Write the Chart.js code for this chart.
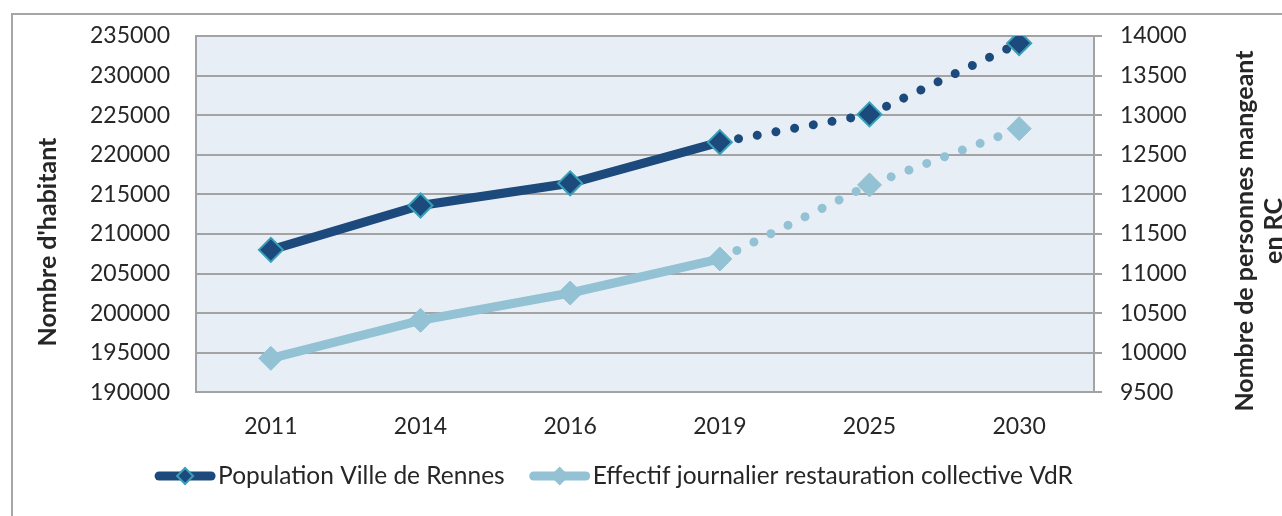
<!DOCTYPE html>
<html>
<head>
<meta charset="utf-8">
<script src="https://cdn.jsdelivr.net/npm/chart.js@4/dist/chart.umd.min.js"></script>
<style>
  html, body { margin: 0; padding: 0; background: #fff; }
</style>
</head>
<body>
<canvas id="rennesChart" width="1282" height="516"></canvas>
<script>
const years = ["2011", "2014", "2016", "2019", "2025", "2030"]
const population = [208000, 213600, 216400, 221600, 225100, 234100]
const effectif = [9930, 10410, 10755, 11185, 12120, 12830]
const popAxis = { min: 190000, max: 235000, step: 5000 }
const rcAxis = { min: 9500, max: 14000, step: 500 }
const projectedFrom = 3 // index of 2019, projections after it are dotted

const COLORS = {
  navy: "#1d4a7c",
  sky: "#92c2d4",
  teal: "#3a9fb8",
  grid: "#a3a3a3",
  plot: "#e8eef5",
  text: "#262626",
  frame: "#a6a6a6",
}
const FONT = "Lato"
const tickFont = { family: FONT, size: 23 }

// dotted after 2019
const dotted = (ctx) => (ctx.p0DataIndex >= projectedFrom ? [0.01, 19] : undefined)

// fixed scale widths so the plot sits where it should
const fixWidth = (w) => (s) => {
  s.width = w
  s.paddingTop = 0
  s.paddingBottom = 0
}

// background of the plot and the outer frame
const backdrop = {
  id: "backdrop",
  beforeDraw(chart) {
    const { ctx, chartArea } = chart
    ctx.save()
    ctx.strokeStyle = COLORS.frame
    ctx.lineWidth = 2
    ctx.strokeRect(12, 14, chart.width + 20, chart.height + 20)
    ctx.fillStyle = COLORS.plot
    ctx.fillRect(chartArea.left, chartArea.top, chartArea.right - chartArea.left, chartArea.bottom - chartArea.top)
    ctx.restore()
  },
}

// both axis titles read bottom to top
const axisTitles = {
  id: "axisTitles",
  afterDraw(chart) {
    const { ctx } = chart
    const put = (lines, x, y) => {
      ctx.save()
      ctx.translate(x, y)
      ctx.rotate(-Math.PI / 2)
      lines.forEach((t, i) => ctx.fillText(t, 0, i * 29))
      ctx.restore()
    }
    ctx.save()
    ctx.font = "bold 25px " + FONT
    ctx.fillStyle = COLORS.text
    ctx.textAlign = "center"
    ctx.textBaseline = "middle"
    put(["Nombre d'habitant"], 48, 242)
    put(["Nombre de personnes mangeant", "en RC"], 1245, 231)
    ctx.restore()
  },
}

// legend: line with diamond, then label
const lineLegend = {
  id: "lineLegend",
  afterDraw(chart) {
    const { ctx } = chart
    ctx.save()
    ctx.font = "24.5px " + FONT
    const sets = chart.data.datasets
    const widths = sets.map((d) => ctx.measureText(d.label).width)
    const total = sets.length * 63 + widths.reduce((a, b) => a + b, 0) + 25 * (sets.length - 1)
    let x = 614 - total / 2
    const y = 476
    sets.forEach((d, i) => {
      ctx.strokeStyle = d.borderColor
      ctx.lineWidth = 9
      ctx.lineCap = "round"
      ctx.beginPath()
      ctx.moveTo(x + 4, y)
      ctx.lineTo(x + 56, y)
      ctx.stroke()
      ctx.beginPath()
      ctx.moveTo(x + 30, y - 8)
      ctx.lineTo(x + 38, y)
      ctx.lineTo(x + 30, y + 8)
      ctx.lineTo(x + 22, y)
      ctx.closePath()
      ctx.fillStyle = d.pointBackgroundColor
      ctx.fill()
      ctx.lineWidth = 2
      ctx.strokeStyle = d.pointBorderColor
      ctx.stroke()
      ctx.fillStyle = COLORS.text
      ctx.textBaseline = "middle"
      ctx.textAlign = "left"
      ctx.fillText(d.label, x + 63, y)
      x += 63 + widths[i] + 25
    })
    ctx.restore()
  },
}

const data = {
  labels: years,
  datasets: [
    {
      label: "Population Ville de Rennes",
      data: population,
      yAxisID: "y",
      borderColor: COLORS.navy,
      borderWidth: 9,
      borderCapStyle: "round",
      pointStyle: "rectRot",
      pointRadius: 12,
      pointBackgroundColor: COLORS.navy,
      pointBorderColor: COLORS.teal,
      pointBorderWidth: 2,
      segment: { borderDash: dotted },
      tension: 0,
    },
    {
      label: "Effectif journalier restauration collective VdR",
      data: effectif,
      yAxisID: "y1",
      borderColor: COLORS.sky,
      borderWidth: 9,
      borderCapStyle: "round",
      pointStyle: "rectRot",
      pointRadius: 12,
      pointBackgroundColor: COLORS.sky,
      pointBorderColor: COLORS.sky,
      pointBorderWidth: 1,
      segment: { borderDash: dotted },
      tension: 0,
    },
  ],
}

const config = {
  type: "line",
  data: data,
  plugins: [backdrop, axisTitles, lineLegend],
  options: {
    responsive: false,
    animation: false,
    layout: { autoPadding: false, padding: { left: 12, right: 0, top: 36, bottom: 56 } },
    plugins: {
      legend: { display: false },
      tooltip: { enabled: false },
    },
    scales: {
      x: {
        offset: true,
        grid: { display: false, drawTicks: false },
        border: { display: true, color: COLORS.grid, width: 2 },
        ticks: { padding: 20, font: tickFont, color: COLORS.text },
      },
      y: {
        position: "left",
        min: popAxis.min,
        max: popAxis.max,
        ticks: { stepSize: popAxis.step, padding: 26, font: tickFont, color: COLORS.text, callback: (v) => String(v) },
        grid: { color: COLORS.grid, lineWidth: 2, drawTicks: false },
        border: { color: COLORS.grid, width: 2 },
        afterFit: fixWidth(196 - 12),
      },
      y1: {
        position: "right",
        min: rcAxis.min,
        max: rcAxis.max,
        ticks: { stepSize: rcAxis.step, padding: 18, font: tickFont, color: COLORS.text, callback: (v) => String(v) },
        grid: { drawOnChartArea: false, color: COLORS.grid, lineWidth: 2, tickLength: 8 },
        border: { color: COLORS.grid, width: 2 },
        afterFit: fixWidth(1282 - 1094),
      },
    },
  },
}

new Chart(document.getElementById("rennesChart"), config)
</script>
</body>
</html>
